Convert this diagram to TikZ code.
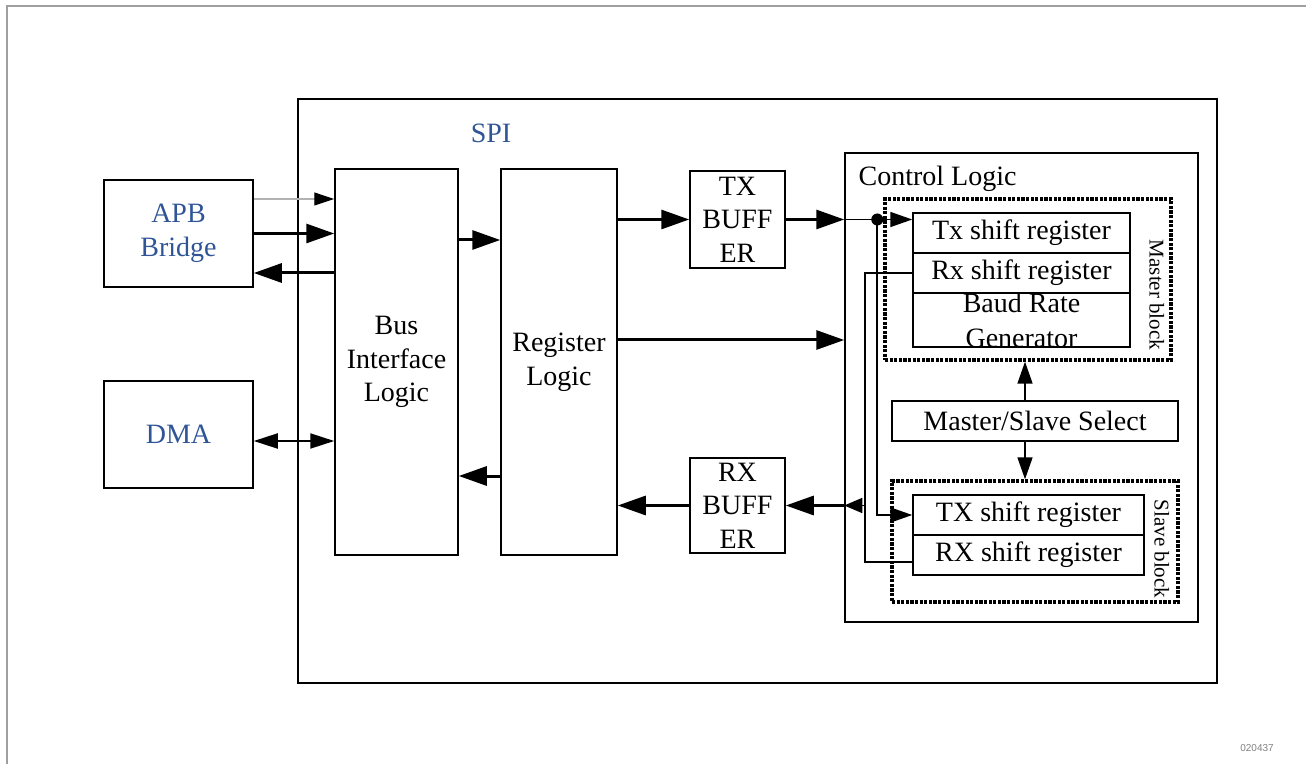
\documentclass[tikz,border=0pt]{standalone}
\usepackage{fontspec}
\setmainfont{Liberation Serif}
\newfontfamily\idfont{Liberation Sans}
\usetikzlibrary{arrows.meta}
\definecolor{spiblue}{RGB}{47,85,151}

\begin{document}
\begin{tikzpicture}[
  x=0.5pt, y=-0.5pt,
  txt/.style={font=\fontsize{14}{16.8}\selectfont, align=center, inner sep=0pt},
  blk/.style={txt, draw, line width=0.75pt},
  blueblk/.style={blk, text=spiblue},
  region/.style={draw, line width=1.7pt, dash pattern=on 1.6pt off 0.7pt, inner sep=0pt},
  big/.style={line width=1.5pt, -{Triangle[length=14pt,width=9.5pt]}},
  small/.style={line width=0.8pt, -{Triangle[length=11pt,width=7.5pt]}},
  wire/.style={line width=0.8pt},
  rot/.style={font=\fontsize{10.5}{12}\selectfont, rotate=-90, inner sep=0pt}
]
\useasboundingbox (0,0) rectangle (1306,764);
% page frame
\draw[gray!75, line width=1pt] (6.5,764) -- (6.5,6.5) -- (1306,6.5);
\node[font=\idfont\fontsize{5}{6}\selectfont, text=gray] (figid) at (1257,748) {020437};

% outer block
\node[blk, minimum width=459.5pt, minimum height=292pt] (spi) at (757.5,391) {};
\node[txt, text=spiblue] (spilbl) at (491,133) {SPI};

\node[blueblk, minimum width=74.5pt, minimum height=53.5pt] (apb) at (178.5,233.5) {APB\\Bridge};
\node[blueblk, minimum width=74.5pt, minimum height=53.5pt] (dma) at (178.5,434.5) {DMA};
\node[blk, minimum width=61.5pt, minimum height=193pt] (bus) at (396.5,362) {Bus\\Interface\\Logic};
\node[blk, minimum width=58pt, minimum height=193pt] (reg) at (559,362) {Register\\Logic};
\node[blk, minimum width=47.5pt, minimum height=48.5pt] (txb) at (737.5,219.5) {TX\\BUFF\\ER};
\node[blk, minimum width=47.5pt, minimum height=47.5pt] (rxb) at (737.5,505.5) {RX\\BUFF\\ER};

% control logic
\node[blk, minimum width=176.5pt, minimum height=234.5pt] (ctrl) at (1021.5,387.5) {};
\node[txt, anchor=west] (ctrllbl) at ([xshift=7pt,yshift=-13.5pt]ctrl.north west) {Control Logic};

\node[region, minimum width=143pt, minimum height=80.5pt] (mst) at (1028,279.5) {};
\node[blk, minimum width=108.5pt, minimum height=20pt] (mtx) at (1021.5,233) {Tx shift register};
\node[blk, minimum width=108.5pt, minimum height=20pt] (mrx) at (1021.5,273) {Rx shift register};
\node[blk, minimum width=108.5pt, minimum height=27pt] (baud) at (1021.5,320) {};
\node[txt, font=\fontsize{14}{17.5}\selectfont] (baudlbl) at (baud) {Baud Rate\\Generator};
\node[rot] (mstlbl) at ([xshift=-8pt,yshift=-7.75pt]mst.east) {Master block};

\node[blk, minimum width=143pt, minimum height=20pt] (mss) at (1035,421) {Master/Slave Select};

\node[region, minimum width=143pt, minimum height=60.5pt] (slv) at (1035,541.5) {};
\node[blk, minimum width=115.5pt, minimum height=20pt] (stx) at (1028.5,515) {TX shift register};
\node[blk, minimum width=115.5pt, minimum height=20pt] (srx) at (1028.5,555) {RX shift register};
\node[rot] (slvlbl) at ([xshift=-9pt,yshift=-3.75pt]slv.east) {Slave block};

% APB / DMA side
\draw[line width=0.6pt, draw=gray!60, -{Triangle[length=10pt,width=6.5pt,color=black]}]
  ([yshift=17.25pt]apb.east) -- ([yshift=17.25pt]apb.east -| bus.west);
\draw[big] (apb.east) -- (apb.east -| bus.west);
\draw[big] ([yshift=-19.75pt]apb.east -| bus.west) -- ([yshift=-19.75pt]apb.east);
\draw[line width=1pt, {Triangle[length=12pt,width=7.5pt]}-{Triangle[length=12pt,width=7.5pt]}]
  ([yshift=-3.25pt]dma.east) -- ([yshift=-3.25pt]dma.east -| bus.west);

% bus <-> register
\draw[big] ([yshift=61pt]bus.east) -- ([yshift=61pt]bus.east -| reg.west);
\draw[big] ([yshift=-57pt]reg.west) -- ([yshift=-57pt]reg.west -| bus.east);

% register <-> buffers <-> control
\draw[big] (txb.west -| reg.east) -- (txb.west);
\draw[big] (txb.east) -- (txb.east -| ctrl.west);
\draw[big] ([yshift=11pt]reg.east) -- ([yshift=11pt]reg.east -| ctrl.west);
\draw[big] (rxb.west) -- (rxb.west -| reg.east);
\draw[big] (rxb.east -| ctrl.west) -- (rxb.east);

% inside control logic
\coordinate (tap) at ([xshift=-17.5pt]txb.east -| mtx.west);
\coordinate (rxj) at ([xshift=-23.5pt]mrx.west);
\draw[small] (txb.east -| ctrl.west) -- (txb.east -| mtx.west);
\fill (tap) circle (3pt);
\draw[small] (tap) |- (stx.west);
\draw[wire] (mrx.west) -- (rxj) |- ([yshift=-3.5pt]srx.west);
\draw[small, -{Triangle[length=9pt,width=7.5pt]}] (rxj |- rxb.east) -- (rxb.east -| ctrl.west);

\draw[small] ([xshift=-5pt]mss.north) -- ([xshift=-5pt]mss.north |- mst.south);
\draw[small] ([xshift=-5pt]mss.south) -- ([xshift=-5pt]mss.south |- slv.north);
\end{tikzpicture}
\end{document}
